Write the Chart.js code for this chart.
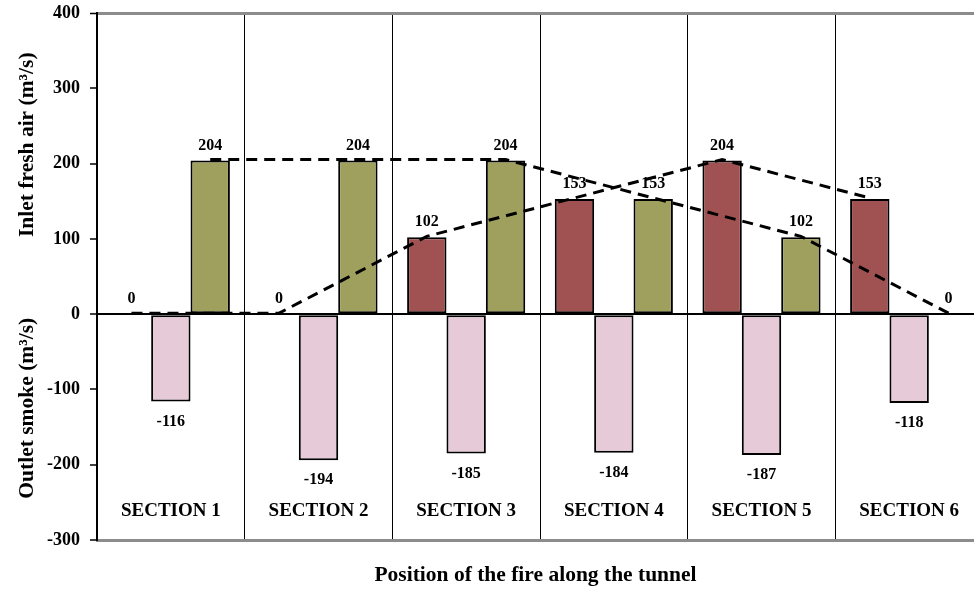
<!DOCTYPE html>
<html>
<head>
<meta charset="utf-8">
<title>Position of the fire along the tunnel</title>
<script src="https://cdn.jsdelivr.net/npm/chart.js@4.4.1/dist/chart.umd.min.js"></script>
<style>
	html, body { margin: 0; padding: 0; background: #fff; overflow: hidden; }
	#wrap { width: 974px; height: 590px; overflow: hidden; }
</style>
</head>
<body>
<div id="wrap"><canvas id="myChart" width="983" height="590"></canvas></div>
<script>
'use strict';

// data
let sections    = ['SECTION 1', 'SECTION 2', 'SECTION 3', 'SECTION 4', 'SECTION 5', 'SECTION 6'];
let inletNear   = [0, 0, 102, 153, 204, 153];            // red bars
let outletSmoke = [-116, -194, -185, -184, -187, -118];  // pink bars
let inletFar    = [204, 204, 204, 153, 102, 0];          // olive bars
let yMin = -300, yMax = 400, yStep = 100;

let serif = '"Liberation Serif", "Times New Roman", serif';
let xTitle = 'Position of the fire along the tunnel';

let annotate = {
	id: 'annotate',
	afterDatasetsDraw: function (chart) {
		let ctx = chart.ctx;
		let x = chart.scales.x, y = chart.scales.y;
		ctx.save();

		// dashed lines joining the tops of the red and the olive bars
		ctx.strokeStyle = '#000';
		ctx.lineWidth = 3;
		ctx.setLineDash([11, 7]);
		[0, 2].forEach(function (di) {
			let bars = chart.getDatasetMeta(di).data;
			ctx.beginPath();
			bars.forEach(function (bar, i) {
				if (i === 0) ctx.moveTo(bar.x, bar.y - 1);
				else ctx.lineTo(bar.x, bar.y - 1);
			});
			ctx.stroke();
		});
		ctx.setLineDash([]);

		ctx.fillStyle = '#000';
		ctx.textAlign = 'center';
		ctx.textBaseline = 'middle';

		// value labels on the bars
		ctx.font = 'bold 16px ' + serif;
		[0, 1, 2].forEach(function (di) {
			let values = chart.data.datasets[di].data;
			chart.getDatasetMeta(di).data.forEach(function (bar, i) {
				let v = values[i];
				ctx.fillText(String(v), bar.x, v < 0 ? bar.y + 20 : bar.y - 15);
			});
		});

		// section names inside the plot
		ctx.font = 'bold 19px ' + serif;
		sections.forEach(function (s, i) {
			ctx.fillText(s, x.getPixelForValue(i), y.getPixelForValue(-262));
		});

		// x title, centred on the visible part of the plot
		let visRight = document.getElementById('wrap').clientWidth;
		ctx.font = 'bold 21.5px ' + serif;
		ctx.fillText(xTitle, (x.left + visRight) / 2, x.bottom - 15);

		// the two y titles
		ctx.translate(27, 0);
		ctx.rotate(-Math.PI / 2);
		ctx.fillText('Inlet fresh air (m\u00b3/s)', -y.getPixelForValue(225), 0);
		ctx.fillText('Outlet smoke (m\u00b3/s)', -y.getPixelForValue(-125), 0);
		ctx.restore();
	}
};

let ctx = document.getElementById('myChart').getContext('2d');
let barStyle = {
	borderColor       : '#000',
	borderWidth       : 2,
	borderSkipped     : false,
	categoryPercentage: 0.8,
	barPercentage     : 1.0
};
let data = {
	labels  : sections,
	datasets: [
		Object.assign({label: 'Inlet (near)', data: inletNear, backgroundColor: '#a05252'}, barStyle),
		Object.assign({label: 'Outlet smoke', data: outletSmoke, backgroundColor: '#e6cad8'}, barStyle),
		Object.assign({label: 'Inlet (far)', data: inletFar, backgroundColor: '#a0a05e'}, barStyle)
	]
};

let myChart = new Chart(ctx, {
	type   : 'bar',
	data   : data,
	plugins: [annotate],
	options: {
		responsive: false,
		animation : false,
		layout    : {padding: {top: 13, right: 0, bottom: 0, left: 0}},
		plugins   : {legend: {display: false}, tooltip: {enabled: false}},
		scales    : {
			x: {
				offset  : true,
				grid    : {offset: true, color: '#000', lineWidth: 1, drawTicks: false},
				border  : {color: '#8c8c8c', width: 3},
				ticks   : {display: false},
				afterFit: function (s) { s.height = 50; }
			},
			y: {
				min  : yMin,
				max  : yMax,
				ticks: {
					stepSize: yStep,
					color   : '#000',
					padding : 10,
					font    : {family: serif, size: 18, weight: 'bold'}
				},
				grid : {
					color: function (c) {
						let v = c.tick.value;
						if (v === 0) return '#000';
						if (v === yMax || v === yMin) return '#8c8c8c';
						return 'rgba(0,0,0,0)';
					},
					lineWidth: function (c) {
						return c.tick.value === yMax ? 3 : 2;
					},
					tickColor : '#000',
					tickLength: 7,
					tickWidth : 1.5
				},
				border  : {color: '#000', width: 2},
				afterFit: function (s) {
					s.width = 97;
					s.paddingTop = 0;
					s.paddingBottom = 0;
				}
			}
		}
	}
});
</script>
</body>
</html>
